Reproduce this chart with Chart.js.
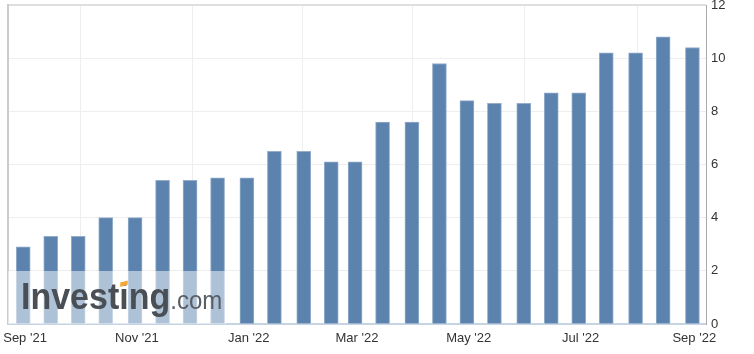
<!DOCTYPE html>
<html>
<head>
<meta charset="utf-8">
<script src="https://cdn.jsdelivr.net/npm/chart.js@4.4.0/dist/chart.umd.min.js"></script>
<style>
  html, body { margin: 0; padding: 0; background: #fff; }
  #wrap { width: 754px; height: 354px; }
</style>
</head>
<body>
<div id="wrap"><canvas id="chart"></canvas></div>
<script>
// release dates (semi-monthly) and values
const releaseDates = [
  "2021-08-31", "2021-09-15", "2021-09-30", "2021-10-15", "2021-10-31",
  "2021-11-15", "2021-11-30", "2021-12-15", "2021-12-31", "2022-01-15",
  "2022-01-31", "2022-02-15", "2022-02-28", "2022-03-15", "2022-03-31",
  "2022-04-15", "2022-04-30", "2022-05-15", "2022-05-31", "2022-06-15",
  "2022-06-30", "2022-07-15", "2022-07-31", "2022-08-15", "2022-08-31"
];
const values = [
  2.9, 3.3, 3.3, 4.0, 4.0,
  5.4, 5.4, 5.5, 5.5, 6.5,
  6.5, 6.1, 6.1, 7.6, 7.6,
  9.8, 8.4, 8.3, 8.3, 8.7,
  8.7, 10.2, 10.2, 10.8, 10.4
];
const tickDates = ["2021-09-01", "2021-11-01", "2022-01-01", "2022-03-01", "2022-05-01", "2022-07-01", "2022-09-01"];
const tickLabels = ["Sep '21", "Nov '21", "Jan '22", "Mar '22", "May '22", "Jul '22", "Sep '22"];
const yTicks = [0, 2, 4, 6, 8, 10, 12];

// days counted from 1 Sep 2021 (no date adapter available, so use a linear axis)
const DAY = 86400000;
const origin = Date.UTC(2021, 8, 1);
function toDay(s) {
  const [y, m, d] = s.split("-").map(Number);
  return (Date.UTC(y, m - 1, d) - origin) / DAY;
}

const points = releaseDates.map((d, i) => ({ x: toDay(d), y: values[i] }));
const tickDays = tickDates.map(toDay);

const framePlugin = {
  id: "frame",
  beforeDatasetsDraw(chart) {
    const { ctx, chartArea } = chart;
    ctx.save();
    // top border
    ctx.fillStyle = "#dfdfdf";
    ctx.fillRect(chartArea.left - 1, chartArea.top - 1, chartArea.right - chartArea.left + 1, 2);
    // left border
    ctx.fillStyle = "#cccccc";
    ctx.fillRect(chartArea.left - 1, chartArea.top - 1, 2, chartArea.bottom - chartArea.top + 1);
    ctx.restore();
  },
  afterDatasetsDraw(chart) {
    const { ctx, chartArea } = chart;
    const left = chartArea.left;
    const bottom = chartArea.bottom;
    ctx.save();
    // watermark box lightens bars below it
    ctx.fillStyle = "rgba(255,255,255,0.5)";
    ctx.fillRect(left, bottom - 53, 218, 53);

    const x0 = left + 13;
    const base = bottom - 15;
    ctx.translate(x0, base);
    ctx.scale(1, 1.1);
    ctx.textBaseline = "alphabetic";
    ctx.font = "bold 34px 'Liberation Sans', Arial, sans-serif";
    ctx.fillStyle = "#4a4f56";
    const word = "Investing";
    ctx.fillText(word, 0, 0);
    const pre = ctx.measureText("Invest").width;
    const iw = ctx.measureText("i").width;
    const w = ctx.measureText(word).width;
    // orange accent on the i dot
    ctx.fillStyle = "#f5a83a";
    ctx.beginPath();
    ctx.moveTo(pre + 1, -20);
    ctx.lineTo(pre + iw - 1, -22);
    ctx.lineTo(pre + iw - 1, -26);
    ctx.lineTo(pre + 1, -24);
    ctx.closePath();
    ctx.fill();

    ctx.font = "24px 'Liberation Sans', Arial, sans-serif";
    ctx.fillStyle = "#5a5f66";
    ctx.fillText(".com", w, 0);
    ctx.restore();
  }
};

new Chart(document.getElementById("chart"), {
  type: "bar",
  data: {
    datasets: [{
      data: points,
      backgroundColor: "#5b83ae",
      borderColor: "#93adcb",
      borderWidth: 1,
      barThickness: 14
    }]
  },
  options: {
    responsive: true,
    maintainAspectRatio: false,
    animation: false,
    layout: { padding: { left: 8, top: 5, right: 0, bottom: 0 } },
    plugins: { legend: { display: false }, tooltip: { enabled: false } },
    scales: {
      x: {
        type: "linear",
        min: -9.3,
        max: 371.4,
        offset: false,
        afterBuildTicks(scale) {
          scale.ticks = tickDays.map(v => ({ value: v }));
        },
        afterFit(scale) {
          scale.height = 30;
          scale.paddingLeft = 0;
          scale.paddingRight = 0;
        },
        ticks: {
          autoSkip: false,
          maxRotation: 0,
          padding: 7,
          color: "#333333",
          font: { family: "'Liberation Sans', Arial, sans-serif", size: 13 },
          callback(value) {
            const i = tickDays.indexOf(value);
            return i >= 0 ? tickLabels[i] : "";
          }
        },
        grid: { color: "#eeeeee", drawTicks: false },
        border: { display: true, color: "#c5d3e3", width: 2 }
      },
      y: {
        position: "right",
        min: 0,
        max: 12,
        afterBuildTicks(scale) {
          scale.ticks = yTicks.map(v => ({ value: v }));
        },
        afterFit(scale) {
          scale.width = 48;
          scale.paddingTop = 0;
          scale.paddingBottom = 0;
        },
        ticks: {
          padding: 5,
          color: "#333333",
          font: { family: "'Liberation Sans', Arial, sans-serif", size: 13 }
        },
        grid: { color: "#eeeeee", drawTicks: false },
        border: { display: true, color: "#aaaaaa", width: 1 }
      }
    }
  },
  plugins: [framePlugin]
});
</script>
</body>
</html>
